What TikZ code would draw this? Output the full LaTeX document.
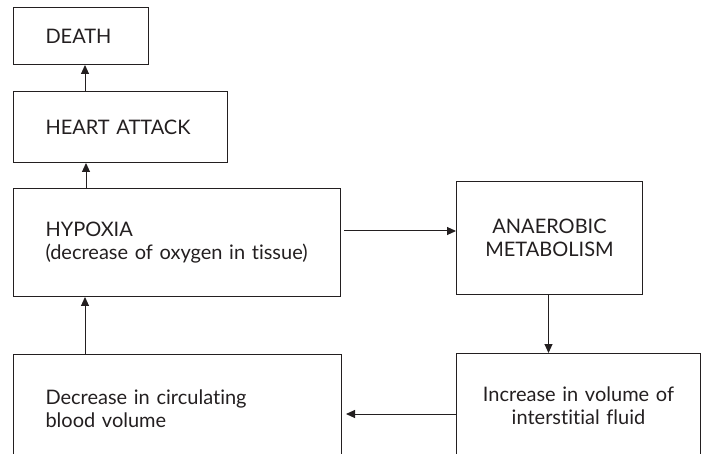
\documentclass[tikz,border=0pt]{standalone}
\usepackage{fontspec}
\setmainfont[Ligatures={NoCommon,NoRequired,NoContextual}]{Lato}
\usetikzlibrary{arrows.meta}
\definecolor{ink}{HTML}{231F20}
\begin{document}
\begin{tikzpicture}[x=1pt,y=-1pt,
  box/.style={draw=ink, text=ink, line width=1pt, rectangle, anchor=north west, inner ysep=0pt,
    font=\fontsize{20}{23}\selectfont},
  lbox/.style={box, align=left, inner xsep=32pt},
  cbox/.style={box, align=center, inner xsep=0pt},
  arr/.style={draw=ink, line width=1pt, -{Triangle[length=9pt,width=8pt]}}]
\useasboundingbox (0,0) rectangle (704,454);
\clip (0,0) rectangle (704,454);
\node[lbox, text width=71pt, minimum height=57pt] (death) at (13,7) {\mbox{DEATH}};
\node[lbox, text width=150pt, minimum height=71pt] (heart) at (13,91) {\mbox{HEART ATTACK}};
\node[lbox, text width=263pt, minimum height=108pt] (hyp) at (13,188) {\mbox{HYPOXIA}\\\mbox{(decrease of oxygen in tissue)}};
\node[cbox, text width=186pt, minimum height=113pt] (aer) at (456,181) {ANAEROBIC\\METABOLISM};
\node[cbox, text width=244pt, minimum height=104pt] (inc) at (456,353) {Increase in volume of\\interstitial fluid};
\node[lbox, text width=264pt, minimum height=108pt] (dec) at (13,354) {\mbox{Decrease in circulating}\\\mbox{blood volume}};
\draw[arr] ([xshift=72pt]heart.north west) -- ([xshift=72pt]death.south west);
\draw[arr] ([xshift=73pt]hyp.north west) -- ([xshift=73pt]heart.south west);
\draw[arr] ([xshift=72pt]dec.north west) -- ([xshift=72pt]hyp.south west);
\draw[arr] ([xshift=3pt,yshift=-43pt]hyp.north east) -- ([yshift=-50pt]aer.north west);
\draw[arr] ([xshift=-1pt]aer.south) -- ([xshift=-1pt]aer.south |- inc.north);
\draw[arr] ([yshift=-61pt]inc.north west) -- ([xshift=4pt,yshift=-60pt]dec.north east);
\end{tikzpicture}
\end{document}
